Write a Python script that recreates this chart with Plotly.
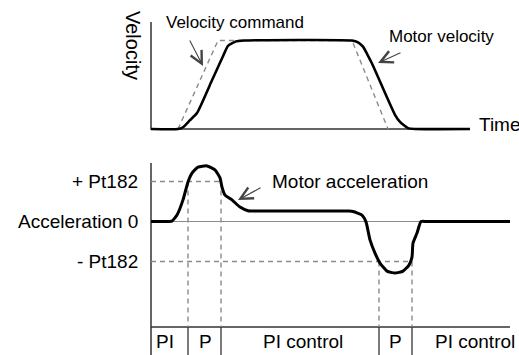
import plotly.graph_objects as go

# ---- time axis (arbitrary time units, 0 = start of both traces) ----
T_END_TOP = 319          # end of the top time axis
T_END_BOTTOM = 359       # end of the bottom axis lines

# ---- velocity panel (1.0 = commanded velocity) ----
cmd_t = [27, 67, 201, 237]
cmd_v = [0.0, 1.0, 1.0, 0.0]

motor_t = [0, 27, 32, 39, 46, 61, 71.5, 77, 85, 93,
           201, 207, 212, 216, 221, 244, 249, 257, 264, T_END_TOP]
motor_v = [0.0, 0.0, 0.02, 0.10, 0.18, 0.55, 0.81, 0.94, 0.99, 1.0,
           1.0, 0.98, 0.93, 0.85, 0.74, 0.16, 0.08, 0.01, 0.0, 0.0]

# ---- acceleration panel (1.0 = Pt182) ----
acc_t = [0, 18, 21, 26, 32, 37, 41, 47, 56, 64, 69, 71, 74, 81, 89, 97, 105,
         198, 202, 211, 215, 219, 224, 229, 236, 244, 252, 258, 261, 262, 266, 270, 276, T_END_BOTTOM]
acc_a = [0.0, 0.0, 0.01, 0.16, 0.54, 0.99, 1.21, 1.36, 1.39, 1.29, 1.09, 0.86, 0.66, 0.54, 0.36, 0.27, 0.26,
         0.26, 0.25, 0.16, -0.01, -0.46, -0.79, -1.04, -1.24, -1.29, -1.24, -1.09, -0.89, -0.54, -0.29, 0.0, 0.0, 0.0]

PT182 = 1.0
acc_levels = [PT182, 0.0, -PT182]
acc_level_labels = ["+ Pt182", "Acceleration 0", "- Pt182"]

# control-mode switching instants and the mode strip
p_start_1, p_end_1, p_start_2, p_end_2 = 37, 70, 228, 261
mode_labels = ["PI", "P", "PI control", "P", "PI control"]
mode_label_t = [14, 54, 151.5, 244, 324]

# axis geometry in data units
TOP_V_MIN, TOP_V_MAX = -0.1243, 1.4576
TOP_AXIS_TOP = 1.209
BOT_A_MIN, BOT_A_MAX = -3.3375, 2.0375
BOT_AXIS_TOP = 1.4625
STRIP_LINE = -2.6375

FONT = "Liberation Sans, Arial, sans-serif"
AXIS_COLOR = "#333333"
DASH_COLOR = "#8a8a8a"
DASH = "5px,4px"

fig = go.Figure()


def seg(xs, ys, color, width, dash=None, yaxis="y"):
    fig.add_trace(go.Scatter(
        x=xs, y=ys, mode="lines", yaxis=yaxis, hoverinfo="skip",
        line=dict(color=color, width=width, dash=dash)))


# top panel frame
seg([0, 0, T_END_TOP], [TOP_AXIS_TOP, 0, 0], AXIS_COLOR, 1.5)
# velocity command (dashed) and motor velocity
seg(cmd_t, cmd_v, DASH_COLOR, 1.4, DASH)
fig.add_trace(go.Scatter(x=motor_t, y=motor_v, mode="lines", yaxis="y", hoverinfo="skip",
                         line=dict(color="black", width=2.6, shape="spline", smoothing=0.5)))

# bottom panel frame
seg([0, 0], [BOT_AXIS_TOP, BOT_A_MIN], AXIS_COLOR, 1.5, yaxis="y2")
seg([0, T_END_BOTTOM], [STRIP_LINE, STRIP_LINE], AXIS_COLOR, 1.5, yaxis="y2")
seg([0, T_END_BOTTOM], [0, 0], "#8c8c8c", 1.2, yaxis="y2")

# Pt182 guide lines
seg([0, p_end_1], [PT182, PT182], DASH_COLOR, 1.4, DASH, "y2")
seg([0, p_end_2], [-PT182, -PT182], DASH_COLOR, 1.4, DASH, "y2")
for t in (p_start_1, p_end_1):
    seg([t, t], [PT182, STRIP_LINE], DASH_COLOR, 1.4, DASH, "y2")
for t in (p_start_2, p_end_2):
    seg([t, t], [-PT182, STRIP_LINE], DASH_COLOR, 1.4, DASH, "y2")
# solid separators in the mode strip
for t in (p_start_1, p_end_1, p_start_2, p_end_2):
    seg([t, t], [STRIP_LINE, BOT_A_MIN], AXIS_COLOR, 1.3, yaxis="y2")

# motor acceleration
fig.add_trace(go.Scatter(x=acc_t, y=acc_a, mode="lines", yaxis="y2", hoverinfo="skip",
                         line=dict(color="black", width=3, shape="spline", smoothing=0.5)))

annotations = []
txt = dict(family=FONT, color="black")

annotations.append(dict(x=-18, y=0.949, xref="x", yref="y", text="Velocity", textangle=90,
                        showarrow=False, font=dict(size=20, **txt)))
annotations.append(dict(x=84, y=1.198, xref="x", yref="y", text="Velocity command",
                        showarrow=False, font=dict(size=17, **txt)))
annotations.append(dict(x=290.5, y=1.04, xref="x", yref="y", text="Motor velocity",
                        showarrow=False, font=dict(size=17, **txt)))
annotations.append(dict(x=326, y=0.05, xref="x", yref="y", text="Time", xanchor="left",
                        showarrow=False, font=dict(size=19, **txt)))
annotations.append(dict(x=119, y=0.99, xref="x", yref="y2", text="Motor acceleration",
                        xanchor="left", showarrow=False, font=dict(size=19, **txt)))

for lvl, lab in zip(acc_levels, acc_level_labels):
    annotations.append(dict(x=-11, y=lvl, xref="x", yref="y2", text=lab, xanchor="right",
                            showarrow=False, font=dict(size=19, **txt)))

for t, lab in zip(mode_label_t, mode_labels):
    annotations.append(dict(x=t, y=-3.0, xref="x", yref="y2", text=lab,
                            showarrow=False, font=dict(size=19, **txt)))

# pointer arrows
arrow = dict(showarrow=True, arrowhead=5, arrowsize=2.2, arrowwidth=1.1,
             arrowcolor="#444444", text="")
annotations.append(dict(x=52, y=0.712, ax=38, ay=1.017, xref="x", yref="y",
                        axref="x", ayref="y", **arrow))
annotations.append(dict(x=227, y=0.746, ax=251, ay=0.87, xref="x", yref="y",
                        axref="x", ayref="y", **arrow))
annotations.append(dict(x=87, y=0.5375, ax=111, ay=0.8625, xref="x", yref="y2",
                        axref="x", ayref="y2", **arrow))

split = 1 - 140 / 355
fig.update_layout(
    width=519, height=355,
    margin=dict(l=0, r=0, t=0, b=0),
    paper_bgcolor="white", plot_bgcolor="white",
    showlegend=False,
    xaxis=dict(range=[-151, 368], visible=False, fixedrange=True),
    yaxis=dict(domain=[split, 1], range=[TOP_V_MIN, TOP_V_MAX], visible=False, fixedrange=True),
    yaxis2=dict(domain=[0, split], range=[BOT_A_MIN, BOT_A_MAX], visible=False,
                anchor="x", fixedrange=True),
    annotations=annotations,
)

fig.write_html("out.html")
